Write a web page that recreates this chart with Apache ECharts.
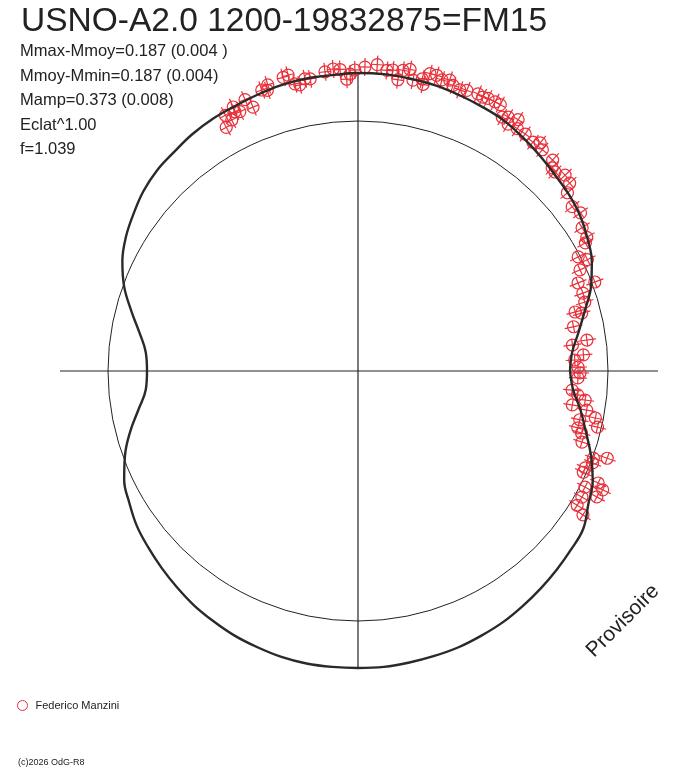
<!DOCTYPE html>
<html>
<head>
<meta charset="utf-8">
<title>USNO-A2.0 1200-19832875 polar lightcurve</title>
<script src="https://cdn.jsdelivr.net/npm/echarts@6.0.0/dist/echarts.min.js"></script>
<style>
    html, body { margin: 0; padding: 0; background: #fff; }
    #main { width: 688px; height: 768px; }
</style>
</head>
<body>
<div id="main"></div>
<script>
// Texts
const titleText = "USNO-A2.0 1200-19832875=FM15";
const infoLines = [
    "Mmax-Mmoy=0.187 (0.004 )",
    "Mmoy-Mmin=0.187 (0.004)",
    "Mamp=0.373 (0.008)",
    "Eclat^1.00",
    "f=1.039"
];
const observerName = "Federico Manzini";
const watermarkText = "Provisoire";
const copyrightText = "(c)2026 OdG-R8";

// Fitted curve: phase angle (deg, counterclockwise from the right) and radius
const curvePhase = [0, 5, 10, 15, 20, 25, 30, 35, 40, 45, 50, 55, 60, 65, 70, 75, 80, 85,
    90, 95, 100, 105, 110, 115, 120, 125, 130, 135, 140, 145, 150, 155, 160, 165, 170, 175,
    180, 185, 190, 195, 200, 205, 210, 215, 220, 225, 230, 235, 240, 245, 250, 255, 260, 265,
    270, 275, 280, 285, 290, 295, 300, 305, 310, 315, 320, 325, 330, 335, 340, 345, 350, 355];
const curveRadius = [212, 215, 224, 235, 248, 258, 265, 271, 275, 278, 282, 286, 290, 292, 294, 296, 297, 298,
    298, 297, 297, 296, 294, 292, 291, 289, 286, 284, 280, 274, 268, 260, 249, 235, 222, 213,
    211, 213, 223, 236, 248, 258, 264, 270, 274, 278, 282, 286, 289, 292, 294, 296, 297, 297,
    297, 297, 296, 295, 294, 292, 290, 287, 284, 281, 278, 275, 266, 259, 248, 236, 226, 216];

// Observations (Federico Manzini): phase angle and radius
const obsPhase = [118.4, 116.7, 117.4, 115.4, 114.5, 115.3, 112.6, 111.7, 108.9, 107.5, 107.9, 104.3,
    103.3, 102.4, 101.5, 100.3, 99.3, 96.3, 94.7, 93.4, 92.2, 91.5, 90.6, 88.7, 86.4, 84.5, 83.4,
    82.2, 81.5, 80.2, 79.3, 77.6, 77.2, 76.4, 75.1, 73.9, 72.5, 71.6, 70.1, 68.8, 66.6, 65.5, 64.5,
    63.0, 61.9, 60.4, 59.4, 58.7, 57.5, 56.7, 54.8, 52.6, 51.4, 50.2, 47.3, 46.3, 45.3, 43.4, 41.6,
    40.4, 37.5, 35.4, 32.6, 30.3, 29.4, 27.4, 25.9, 24.5, 20.6, 21.8, 19.1, 16.9, 15.2, 14.5, 11.6,
    7.7, 6.9, 4.1, 2.9, 1.0, 359.5, 358.2, 354.9, 353.8, 352.7, 351.0, 350.3, 348.8, 347.6, 345.5,
    346.8, 344.5, 342.4, 339.7, 340.7, 338.6, 336.9, 335.8, 335.0, 332.9, 334.1, 332.2, 330.6,
    328.5, 327.4];
const obsRadius = [277, 281, 288, 287, 285, 292, 294, 284, 297, 300, 295, 303,
    304, 294, 292, 297, 296, 301, 303, 302, 292, 297, 301, 304, 307, 302, 303,
    294, 304, 306, 296, 299, 294, 306, 306, 303, 305, 301, 299, 301, 302, 301, 302,
    302, 302, 292, 295, 289, 298, 290, 290, 288, 292, 288, 287, 281, 280, 285, 283,
    275, 270, 273, 266, 265, 261, 248, 255, 244, 253, 237, 238, 237, 225, 231, 220,
    231, 216, 226, 217, 220, 222, 220, 215, 221, 229, 217, 232, 242, 227, 227,
    246, 232, 235, 251, 264, 252, 247, 247, 265, 255, 272, 270, 257,
    257, 267];

// Reference circle radius
const refRadius = [250];

document.addEventListener("DOMContentLoaded", function () {
    const RED = "#e8303a";
    const INK = "#222";
    const FONT = "'Liberation Sans', Arial, sans-serif";
    const PLOT_R = 300;       // polar extent, 1 radius unit = 1 px
    const AXIS_LEN = 299;     // half length of the cross hair
    const MARK_R = 6;         // circle marker radius
    const ERR_BAR = 9;        // half length of the radial bar

    var chartDom = document.getElementById("main");
    var myChart = echarts.init(chartDom, null, { renderer: "canvas" });

    // build the pairs ECharts wants: [radius, angle]
    var curveData = curvePhase.map(function (p, i) { return [curveRadius[i], p]; });
    curveData.push([curveRadius[0], curvePhase[0] + 360]);   // close the loop
    var obsData = obsPhase.map(function (p, i) { return [obsRadius[i], p]; });

    var textEls = [
        { type: "text", x: 21, y: 21.5, style: { text: titleText, font: "33.5px " + FONT, fill: INK, textVerticalAlign: "middle" } }
    ];
    infoLines.forEach(function (line, i) {
        textEls.push({ type: "text", x: 20, y: 51.5 + i * 24.6,
            style: { text: line, font: "16.5px " + FONT, fill: INK, textVerticalAlign: "middle" } });
    });
    textEls.push({ type: "text", x: 623, y: 621, rotation: Math.PI / 4,
        style: { text: watermarkText, font: "21px " + FONT, fill: INK, textAlign: "center", textVerticalAlign: "middle" } });
    textEls.push({ type: "text", x: 18, y: 763,
        style: { text: copyrightText, font: "9px " + FONT, fill: INK, textVerticalAlign: "middle" } });

    const option = {
        backgroundColor: "#fff",
        animation: false,
        polar: { center: [358, 371], radius: PLOT_R },
        angleAxis: {
            type: "value", min: 0, max: 360, startAngle: 0, clockwise: false,
            axisLine: { show: false },
            axisTick: { show: false }, axisLabel: { show: false }, splitLine: { show: false }
        },
        radiusAxis: {
            type: "value", min: 0, max: PLOT_R,
            axisLine: { show: false }, axisTick: { show: false },
            axisLabel: { show: false }, splitLine: { show: false }
        },
        legend: {
            left: 17, top: 700, padding: 0, itemWidth: 10, itemHeight: 10, selectedMode: false,
            textStyle: { fontSize: 11, color: INK, fontFamily: FONT, padding: [0, 0, 0, 3] },
            data: [{ name: observerName, icon: "circle",
                itemStyle: { color: "#fff", borderColor: RED, borderWidth: 1 } }]
        },
        graphic: textEls,
        series: [
            {
                // reference circle
                name: "ref", type: "custom", coordinateSystem: "polar", clip: false, silent: true, z: 1,
                renderItem: function (params, api) {
                    var c = api.coord([0, 0]);
                    var e = api.coord([api.value(0), 0]);
                    return { type: "circle", shape: { cx: c[0], cy: c[1], r: Math.abs(e[0] - c[0]) },
                        style: { stroke: INK, lineWidth: 1, fill: "none" } };
                },
                data: refRadius.map(function (r) { return [r, 0]; })
            },
            {
                name: "axisH", type: "line", coordinateSystem: "polar", clip: false, silent: true,
                symbol: "none", z: 1, lineStyle: { color: INK, width: 1.2 },
                data: [[AXIS_LEN - 1, 180], [AXIS_LEN + 1, 0]]
            },
            {
                name: "axisV", type: "line", coordinateSystem: "polar", clip: false, silent: true,
                symbol: "none", z: 1, lineStyle: { color: INK, width: 1.2 },
                data: [[AXIS_LEN - 1, 90], [AXIS_LEN - 2, 270]]
            },
            {
                name: observerName, type: "custom", coordinateSystem: "polar", clip: false, z: 3,
                itemStyle: { color: RED },
                renderItem: function (params, api) {
                    var r = api.value(0), a = api.value(1);
                    var p = api.coord([r, a]);
                    var pIn = api.coord([r - ERR_BAR, a]);
                    var pOut = api.coord([r + ERR_BAR, a]);
                    var ux = (pOut[0] - pIn[0]) / (2 * ERR_BAR);
                    var uy = (pOut[1] - pIn[1]) / (2 * ERR_BAR);
                    var tx = -uy * MARK_R, ty = ux * MARK_R;
                    var st = { stroke: RED, lineWidth: 1.2, fill: "none" };
                    return {
                        type: "group",
                        children: [
                            { type: "circle", shape: { cx: p[0], cy: p[1], r: MARK_R }, style: st },
                            { type: "line", shape: { x1: pIn[0], y1: pIn[1], x2: pOut[0], y2: pOut[1] }, style: st },
                            { type: "line", shape: { x1: p[0] - tx, y1: p[1] - ty, x2: p[0] + tx, y2: p[1] + ty }, style: st }
                        ]
                    };
                },
                data: obsData
            },
            {
                name: "fit", type: "line", coordinateSystem: "polar", clip: false, silent: true,
                symbol: "none", smooth: 0.4, z: 4,
                lineStyle: { color: "#2a2a2a", width: 2.4 },
                data: curveData
            }
        ]
    };

    option && myChart.setOption(option);
});
</script>
</body>
</html>
